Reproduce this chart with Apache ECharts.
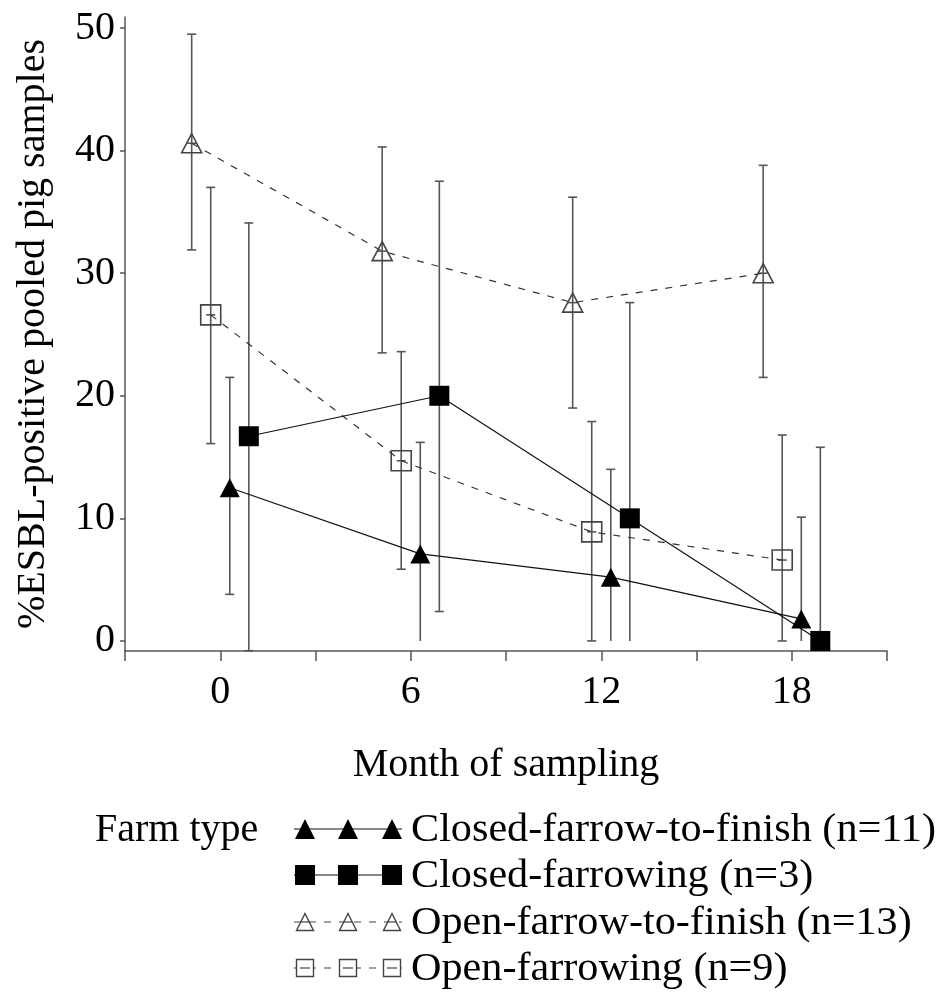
<!DOCTYPE html>
<html>
<head>
    <meta charset="utf-8">
    <title>ESBL-positive pooled pig samples</title>
    <script src="https://cdn.jsdelivr.net/npm/echarts@6/dist/echarts.min.js"></script>
    <style>
        html, body { margin: 0; padding: 0; background: #fff; }
        #chart { width: 944px; height: 993px; }
    </style>
</head>
<body>
<div id="chart"></div>
<script type="text/javascript">
    // months of sampling (x ticks labelled)
    var months = [0, 6, 12, 18];
    var yTicks = [0, 10, 20, 30, 40, 50];

    // % ESBL-positive, with lower / upper limits, per farm type
    var closedFinishName = 'Closed-farrow-to-finish (n=11)';
    var closedFinish = [12.5, 7.1, 5.2, 1.8];
    var closedFinishLow = [3.8, 0, 0, 0];
    var closedFinishHigh = [21.5, 16.2, 14.0, 10.1];

    var closedFarrowName = 'Closed-farrowing (n=3)';
    var closedFarrow = [16.7, 20.0, 10.0, 0];
    var closedFarrowLow = [-0.8, 2.4, 0, 0];
    var closedFarrowHigh = [34.1, 37.5, 27.6, 15.8];

    var openFinishName = 'Open-farrow-to-finish (n=13)';
    var openFinish = [40.6, 31.8, 27.6, 30.0];
    var openFinishLow = [31.9, 23.5, 19.0, 21.5];
    var openFinishHigh = [49.5, 40.3, 36.2, 38.8];

    var openFarrowName = 'Open-farrowing (n=9)';
    var openFarrow = [26.6, 14.7, 8.9, 6.6];
    var openFarrowLow = [16.1, 5.85, 0, 0];
    var openFarrowHigh = [37.0, 23.6, 17.9, 16.8];

    var FONT = 'Liberation Serif';

    // groups are dodged a little around each month
    var groups = [
        {name: openFinishName, v: openFinish, lo: openFinishLow, hi: openFinishHigh, shift: -0.9, symbol: 'triangle', open: true},
        {name: openFarrowName, v: openFarrow, lo: openFarrowLow, hi: openFarrowHigh, shift: -0.3, symbol: 'rect', open: true},
        {name: closedFinishName, v: closedFinish, lo: closedFinishLow, hi: closedFinishHigh, shift: 0.3, symbol: 'triangle', open: false},
        {name: closedFarrowName, v: closedFarrow, lo: closedFarrowLow, hi: closedFarrowHigh, shift: 0.9, symbol: 'rect', open: false}
    ];

    var series = [];
    groups.forEach(function (g) {
        var pts = months.map(function (m, i) { return [m + g.shift, g.v[i]]; });
        var bars = months.map(function (m, i) { return [m + g.shift, g.lo[i], g.hi[i], g.v[i]]; });
        // error bars
        series.push({
            type: 'custom',
            z: 1,
            silent: true,
            data: bars,
            renderItem: function (params, api) {
                var x = api.value(0);
                var lo = api.coord([x, api.value(1)]);
                var hi = api.coord([x, api.value(2)]);
                var mid = api.coord([x, api.value(3)]);
                var st = {stroke: '#555', lineWidth: 1.6};
                var cap = 4.5;
                var kids = [
                    {type: 'line', shape: {x1: lo[0], y1: lo[1], x2: hi[0], y2: hi[1]}, style: st},
                    {type: 'line', shape: {x1: hi[0] - cap, y1: hi[1], x2: hi[0] + cap, y2: hi[1]}, style: st},
                    {type: 'line', shape: {x1: mid[0] - cap, y1: mid[1], x2: mid[0] + cap, y2: mid[1]}, style: st}
                ];
                // closed groups show no cap where the limit sits on zero
                if (g.open || api.value(1) !== 0) {
                    kids.push({type: 'line', shape: {x1: lo[0] - cap, y1: lo[1], x2: lo[0] + cap, y2: lo[1]}, style: st});
                }
                return {type: 'group', children: kids};
            }
        });
        // means joined by a line
        series.push({
            name: g.name,
            type: 'line',
            z: 2,
            data: pts,
            symbol: g.symbol,
            symbolSize: g.symbol === 'triangle' ? [20, 19] : [20, 20],
            showAllSymbol: true,
            lineStyle: g.open
                ? {color: '#333', width: 1.2, type: [7, 8]}
                : {color: '#111', width: 1.2, type: 'solid'},
            itemStyle: g.open
                ? {color: 'rgba(255,255,255,0)', borderColor: '#444', borderWidth: 1.6}
                : {color: '#000', borderColor: '#000', borderWidth: 0},
            emphasis: {disabled: true}
        });
    });

    // legend drawn by hand: three markers on a line, then the label
    var legendRows = [
        {name: closedFinishName, y: 829, symbol: 'triangle', open: false},
        {name: closedFarrowName, y: 875, symbol: 'rect', open: false},
        {name: openFinishName, y: 922, symbol: 'triangle', open: true},
        {name: openFarrowName, y: 968, symbol: 'rect', open: true}
    ];
    var graphics = [{
        type: 'text', left: 95, top: 829 - 19,
        style: {text: 'Farm type', font: '40px "' + FONT + '"', fill: '#000'}
    }];
    legendRows.forEach(function (r) {
        graphics.push({
            type: 'line',
            shape: {x1: 294, y1: r.y, x2: 402, y2: r.y},
            style: r.open ? {stroke: '#444', lineWidth: 1.2, lineDash: [7, 8]} : {stroke: '#111', lineWidth: 1.2}
        });
        [305, 348, 392].forEach(function (cx) {
            var s = r.open ? 17 : 20;
            var st = r.open ? {fill: '#fff', stroke: '#444', lineWidth: 1.4} : {fill: '#000'};
            if (r.symbol === 'triangle') {
                graphics.push({type: 'polygon', shape: {points: [[cx, r.y - s / 2], [cx + s / 2, r.y + s / 2], [cx - s / 2, r.y + s / 2]]}, style: st});
            } else {
                graphics.push({type: 'rect', shape: {x: cx - s / 2, y: r.y - s / 2, width: s, height: s}, style: st});
            }
            if (r.open) graphics.push({type: 'line', shape: {x1: cx - 5, y1: r.y, x2: cx + 5, y2: r.y}, style: {stroke: '#444', lineWidth: 1.2}});
        });
        graphics.push({
            type: 'text', x: 411, y: r.y - 19, scaleX: 1.055,
            style: {text: r.name, font: '40px "' + FONT + '"', fill: '#000'}
        });
    });

    var myChart = echarts.init(document.getElementById('chart'));
    myChart.setOption({
        animation: false,
        backgroundColor: '#fff',
        textStyle: {fontFamily: FONT},
        grid: {left: 125, right: 57, top: 17, bottom: 342, containLabel: false},
        xAxis: {
            type: 'value',
            min: -3,
            max: 21,
            interval: 3,
            name: 'Month of sampling',
            nameLocation: 'middle',
            nameGap: 94,
            nameTextStyle: {fontSize: 40, color: '#000', fontFamily: FONT},
            axisLine: {onZero: false, lineStyle: {color: '#555', width: 1.5}},
            axisTick: {length: 10, lineStyle: {color: '#555', width: 1.5}},
            axisLabel: {
                fontSize: 40, color: '#000', margin: 21, fontFamily: FONT,
                formatter: function (v) { return months.indexOf(v) >= 0 ? String(v) : ''; }
            },
            splitLine: {show: false}
        },
        yAxis: {
            type: 'value',
            min: -0.82,
            max: 50.9,
            name: '%ESBL-positive pooled pig samples',
            nameLocation: 'middle',
            nameGap: 72,
            nameTextStyle: {fontSize: 40, color: '#000', fontFamily: FONT},
            axisLine: {show: true, onZero: false, lineStyle: {color: '#555', width: 1.5}},
            axisTick: {show: true, length: 5, customValues: yTicks, lineStyle: {color: '#555', width: 1.5}},
            axisLabel: {fontSize: 40, color: '#000', margin: 10, customValues: yTicks, fontFamily: FONT},
            splitLine: {show: false}
        },
        graphic: graphics,
        series: series
    });
</script>
</body>
</html>
